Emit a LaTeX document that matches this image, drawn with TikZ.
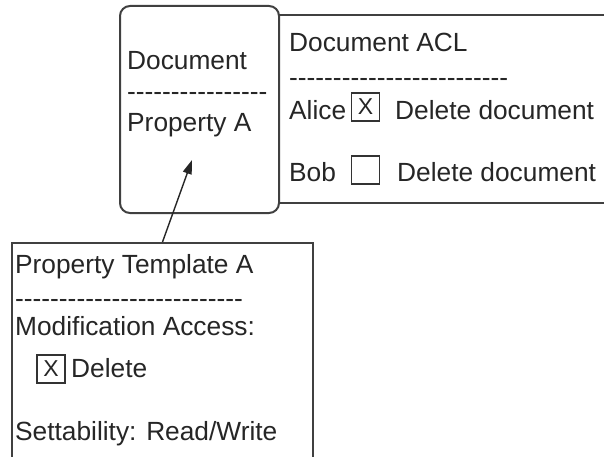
\documentclass[tikz,border=0pt]{standalone}
\usepackage{fontspec}
\setmainfont{Liberation Sans}[Ligatures=TeXOff]
\usetikzlibrary{arrows.meta}

\begin{document}
\begin{tikzpicture}[x=1pt,y=-1pt,
          box/.style={draw=black!75,line width=2pt,inner sep=0pt},
          txt/.style={anchor=base west,inner sep=0pt,text=black!85,font=\fontsize{26.3}{30}\selectfont},
          chk/.style={draw=black!80,line width=1.6pt,minimum size=28pt,inner sep=0pt,text=black!85,font=\fontsize{23}{26}\selectfont}]
        \useasboundingbox (0,0) rectangle (604,457);
        \clip (0,0) rectangle (604,457);
        \fill[white] (0,0) rectangle (604,457);
        \node[box,minimum width=330pt,minimum height=187.5pt] (acl) at (444,109.25) {};
        \node[box,rounded corners=10pt,fill=white,minimum width=159pt,minimum height=207pt] (doc) at (199.5,109.5) {};
        \node[box,minimum width=301pt,minimum height=260pt] (tmpl) at (162.5,373) {};
        \node[txt] (docname)  at (127,70)  {Document};
        \node[txt] (docdash)  at (127,101) {----------------};
        \node[txt] (propa)    at (127,132) {Property A};
        \node[txt] (aclname)  at (289,52)  {Document ACL};
        \node[txt] (acldash)  at (289,87)  {-------------------------};
        \node[txt] (alice)    at (289,120) {Alice};
        \node[chk] (alicechk) at (365.5,107) {X};
        \node[txt] (alicedel) at (395,120) {Delete document};
        \node[txt] (bob)      at (289,182) {Bob};
        \node[chk] (bobchk)   at (365.5,170) {};
        \node[txt] (bobdel)   at (397,182) {Delete document};
        \node[txt] (tmplname) at (15,273)  {Property Template A};
        \node[txt] (tmpldash) at (15,307)  {--------------------------};
        \node[txt] (modacc)   at (15,335)  {Modification Access:};
        \node[chk] (delchk)   at (51,369)  {X};
        \node[txt] (del)      at (71,377)  {Delete};
        \node[txt] (sett)     at (15,440)  {Settability: Read/Write};
        \coordinate (tip) at (192,160);
        \draw[line width=1.4pt,black!85,-{Triangle[length=14pt,width=9pt]}] (tmpl.north) -- (tip);
      \end{tikzpicture}
\end{document}
